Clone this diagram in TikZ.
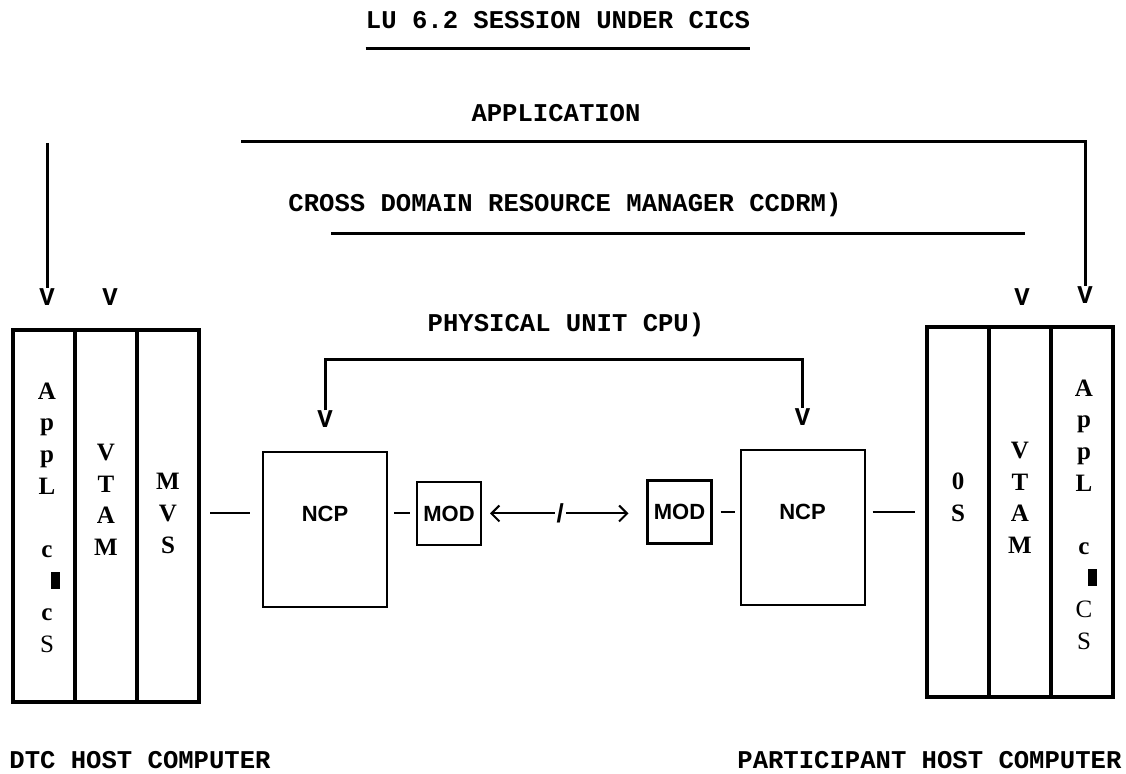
\documentclass[tikz,border=0pt]{standalone}
\usepackage{fontspec}
\setmainfont{Liberation Serif}
\newfontfamily\courierfont{Liberation Mono}
\newfontfamily\helvfont{Liberation Sans}
\usetikzlibrary{positioning, arrows.meta}
\tikzstyle{txt} = [inner sep=0pt, font=\courierfont\bfseries\fontsize{12.8}{15}\selectfont]
\tikzstyle{vtip} = [inner sep=0pt, font=\courierfont\bfseries\fontsize{12.8}{15}\selectfont]
\tikzstyle{col} = [rectangle, draw=black, line width=2pt, outer sep=0pt, inner sep=0pt, minimum width=31pt]
\tikzstyle{letters} = [inner sep=0pt, align=center, font=\bfseries\fontsize{12.5}{15.8}\selectfont]
\tikzstyle{box} = [rectangle, draw=black, line width=1pt, outer sep=0pt, inner sep=0pt, font=\helvfont\bfseries\fontsize{11}{13}\selectfont]
\tikzstyle{sanslbl} = [inner sep=0pt, font=\helvfont\bfseries\fontsize{11}{13}\selectfont]
\tikzstyle{wire} = [draw, line width=1.5pt]
\tikzstyle{link} = [draw, line width=1pt]
\newcommand{\blk}{\hspace*{8pt}\rule{4.5pt}{8.5pt}}

\begin{document}
\begin{tikzpicture}[x=0.5pt, y=-0.5pt]
		\useasboundingbox (0,0) rectangle (1126,774);
		% headings
		\node (title) [txt] at (558,20) {LU 6.2 SESSION UNDER CICS};
		\node (appl) [txt] at (556,113) {APPLICATION};
		\node (ccdrm) [txt] at (565,205) {CROSS DOMAIN RESOURCE MANAGER CCDRM)};
		\node (pu) [txt] at (566,325) {PHYSICAL UNIT CPU)};
		\coordinate (ulY) at (0,49);
		\coordinate (appStart) at (241,142);
		\coordinate (leftTop) at (47,143);
		\coordinate (cdStart) at (331,234);
		\coordinate (cdEnd) at (1025,234);
		\coordinate (puY) at (0,360);
		% V tips
		\node (vDtcAppl) [vtip] at (47,297) {V};
		\node (vDtcVtam) [vtip] at (110,297) {V};
		\node (vPartVtam) [vtip] at (1022,297) {V};
		\node (vPartAppl) [vtip] at (1085,295) {V};
		% DTC host
		\node (dtcAppl) [col, minimum height=186pt] at (44,516) {};
		\node (dtcVtam) [col, minimum height=186pt, right=0pt of dtcAppl] {};
		\node (dtcMvs) [col, minimum height=186pt, right=0pt of dtcVtam] {};
		\node (dtcApplTxt) [letters] at ([xshift=1.5pt, yshift=-0.75pt]dtcAppl.center) {A\\p\\p\\L\\[15.8pt]c\\\blk\\c\\{\mdseries S}};
		\node (dtcVtamTxt) [letters] at ([yshift=8pt]dtcVtam.center) {V\\T\\A\\M};
		\node (dtcMvsTxt) [letters] at ([yshift=1.25pt]dtcMvs.center) {M\\V\\S};
		% participant host
		\node (partOs) [col, minimum height=185pt] at (958,512) {};
		\node (partVtam) [col, minimum height=185pt, right=0pt of partOs] {};
		\node (partAppl) [col, minimum height=185pt, right=0pt of partVtam] {};
		\node (partOsTxt) [letters] at ([yshift=7.25pt]partOs.center) {0\\S};
		\node (partVtamTxt) [letters] at ([yshift=7pt]partVtam.center) {V\\T\\A\\M};
		\node (partApplTxt) [letters] at ([xshift=1pt, yshift=-1.25pt]partAppl.center) {A\\p\\p\\L\\[15.8pt]c\\\blk\\{\mdseries C}\\{\mdseries S}};
		% NCP and MOD
		\node (ncpL) [box, minimum width=62pt, minimum height=77.5pt, anchor=north] at (325,452) {};
		\node (modL) [box, line width=1.2pt, minimum width=32pt, minimum height=31.5pt] at (449,513.5) {MOD};
		\node (ncpLTxt) [sanslbl] at (ncpL.center |- modL.center) {NCP};
		\node (modR) [box, line width=1.2pt, minimum width=32pt, minimum height=31.5pt] at (679.5,512) {MOD};
		\node (ncpR) [box, minimum width=62pt, minimum height=77.5pt, anchor=north] at (802.5,450) {};
		\node (ncpRTxt) [sanslbl] at (ncpR.center |- modR.center) {NCP};
		\node (vNcpL) [vtip, above=12pt of ncpL] {V};
		\node (vNcpR) [vtip, above=12pt of ncpR] {V};
		% sessions
		\draw [wire] (title.west |- ulY) -- (title.east |- ulY);
		\draw [wire] (leftTop) -- (vDtcAppl.north);
		\draw [wire] (appStart) -| (vPartAppl.north);
		\draw [wire] (cdStart) -- (cdEnd);
		\draw [wire] (vNcpL.north) -- (vNcpL.north |- puY) -- (vNcpR.north |- puY) -- (vNcpR.north);
		% links
		\draw [link, shorten <=5.5pt, shorten >=6.5pt] (dtcMvs.east |- modL) -- (ncpL.west |- modL);
		\draw [link, shorten <=3.5pt, shorten >=3.5pt] (ncpL.east |- modL) -- (modL.west);
		\draw [link, {Straight Barb[length=4pt, width=8pt]}-{Straight Barb[length=4pt, width=8pt]}, shorten <=4.5pt, shorten >=9.5pt] (modL.east) -- (modR.west |- modL) node [midway, xshift=-2pt, fill=white, inner sep=1pt, font=\helvfont\bfseries\fontsize{13}{15}\selectfont] (cut) {/};
		\draw [link, shorten <=4.5pt, shorten >=3pt] (modR.east) -- (ncpR.west |- modR);
		\draw [link, shorten <=4pt, shorten >=6pt] (ncpR.east |- modR) -- (partOs.west |- modR);
		% host names
		\node (dtcName) [txt, anchor=west] at (9,760) {DTC HOST COMPUTER};
		\node (partName) [txt, anchor=west] at (737,760) {PARTICIPANT HOST COMPUTER};
	\end{tikzpicture}
\end{document}
